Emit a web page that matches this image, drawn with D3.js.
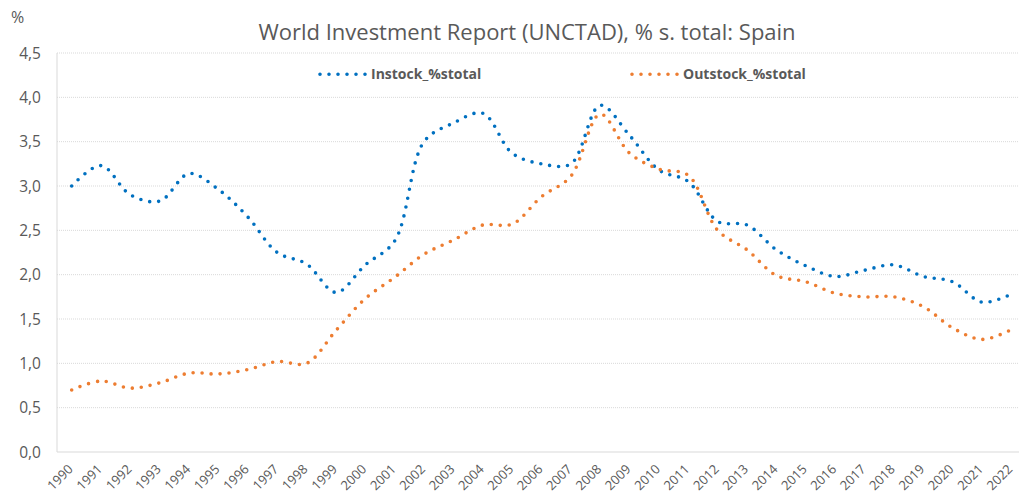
<!DOCTYPE html>
<html>
<head>
<meta charset="utf-8">
<script src="https://cdn.jsdelivr.net/npm/d3@7"></script>
<style>
  body { margin: 0; background: #fff; }
  text { font-family: "Open Sans", "Noto Sans", sans-serif; fill: #595959; }
</style>
</head>
<body>
<svg></svg>
<script>
// Chart data
const years = d3.range(1990, 2023).map(String);
const instock = [3.00, 3.23, 2.90, 2.83, 3.14, 2.96, 2.65, 2.25, 2.12, 1.80,
                 2.11, 2.38, 3.50, 3.71, 3.82, 3.37, 3.25, 3.25, 3.91, 3.57,
                 3.18, 3.05, 2.60, 2.56, 2.28, 2.10, 1.98, 2.05, 2.11, 1.98,
                 1.92, 1.69, 1.78];
const outstock = [0.70, 0.80, 0.72, 0.78, 0.89, 0.88, 0.93, 1.02, 1.00, 1.37,
                  1.73, 1.97, 2.23, 2.39, 2.56, 2.57, 2.88, 3.11, 3.81, 3.37,
                  3.19, 3.12, 2.50, 2.28, 1.99, 1.92, 1.79, 1.75, 1.75, 1.64,
                  1.40, 1.27, 1.38];
const yTicks = [0, 0.5, 1, 1.5, 2, 2.5, 3, 3.5, 4, 4.5];
const seriesNames = ["Instock_%stotal", "Outstock_%stotal"];
const colors = ["#0070C0", "#ED7D31"];

const width = 1019, height = 497;

const svg = d3.select("svg")
  .attr("width", width)
  .attr("height", height);

// Scales (plot area runs a little past the right edge, like the cropped original)
const x = d3.scalePoint().domain(years).range([57, 1026]).padding(0.5);
const y = d3.scaleLinear().domain([0, 4.5]).range([452, 53]);

// Gridlines
svg.append("g")
  .selectAll("line")
  .data(yTicks.filter(d => d > 0))
  .enter()
  .append("line")
  .attr("x1", 57).attr("x2", 1026)
  .attr("y1", d => y(d)).attr("y2", d => y(d))
  .attr("stroke", "#D9D9D9")
  .attr("stroke-width", 1)
  .attr("stroke-dasharray", "1 1");

// Base line and left axis line
svg.append("line")
  .attr("x1", 57).attr("x2", 1026)
  .attr("y1", y(0)).attr("y2", y(0))
  .attr("stroke", "#D9D9D9");
svg.append("line")
  .attr("x1", 57).attr("x2", 57)
  .attr("y1", y(4.5)).attr("y2", y(0))
  .attr("stroke", "#D9D9D9");

// Y axis labels
const fmt = d => d3.format(".1f")(d).replace(".", ",");
svg.append("g")
  .selectAll("text")
  .data(yTicks)
  .enter()
  .append("text")
  .attr("x", 41)
  .attr("y", d => y(d) + 5.5)
  .attr("text-anchor", "end")
  .style("font-size", "15.5px")
  .text(fmt);

// X axis labels, rotated
svg.append("g")
  .selectAll("text")
  .data(years)
  .enter()
  .append("text")
  .attr("transform", d => `translate(${x(d) + 2},${470}) rotate(-45)`)
  .attr("text-anchor", "end")
  .style("font-size", "13px")
  .text(d => d);

// Lines
const line = d3.line()
  .x((d, i) => x(years[i]))
  .y(d => y(d))
  .curve(d3.curveCatmullRom.alpha(0.5));

[instock, outstock].forEach((vals, i) => {
  svg.append("path")
    .datum(vals)
    .attr("d", line)
    .attr("fill", "none")
    .attr("stroke", colors[i])
    .attr("stroke-width", 3.6)
    .attr("stroke-linecap", "round")
    .attr("stroke-dasharray", "0 9");
});

// Title and unit
svg.append("text")
  .attr("x", 527).attr("y", 39.5)
  .attr("text-anchor", "middle")
  .style("font-size", "22px")
  .text("World Investment Report (UNCTAD), % s. total: Spain");

svg.append("text")
  .attr("x", 11).attr("y", 23)
  .style("font-size", "16px")
  .text("%");

// Legend
const legendX = [320, 632];
seriesNames.forEach((name, i) => {
  svg.append("line")
    .attr("x1", legendX[i]).attr("x2", legendX[i] + 46)
    .attr("y1", 74.3).attr("y2", 74.3)
    .attr("stroke", colors[i])
    .attr("stroke-width", 3.6)
    .attr("stroke-linecap", "round")
    .attr("stroke-dasharray", "0 9");
  svg.append("text")
    .attr("x", legendX[i] + 51)
    .attr("y", 79)
    .style("font-size", "14px")
    .style("font-weight", "bold")
    .text(name);
});
</script>
</body>
</html>
